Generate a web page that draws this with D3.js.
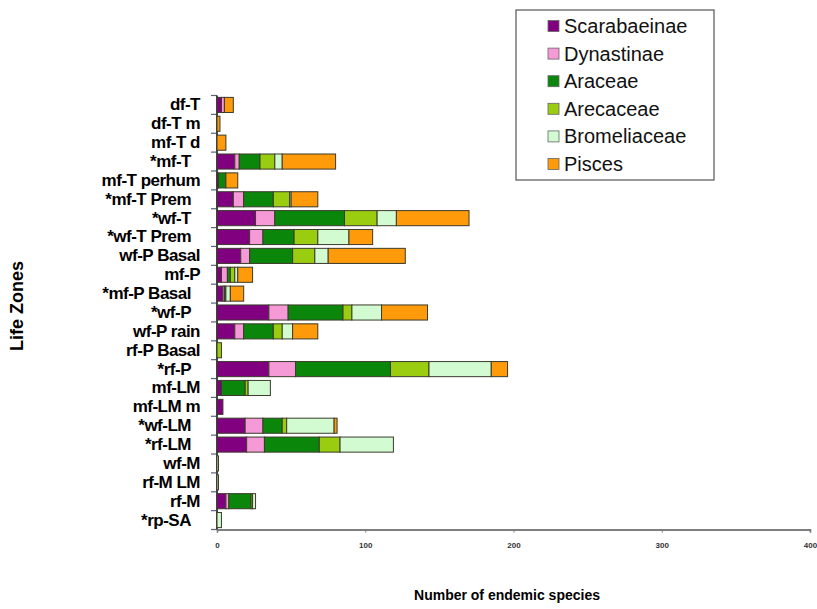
<!DOCTYPE html>
<html>
<head>
<meta charset="utf-8">
<script src="https://cdn.jsdelivr.net/npm/d3@7"></script>
<style>
  body { margin: 0; background: #fff; }
  svg { font-family: "Liberation Sans", Arial, sans-serif; }
</style>
</head>
<body>
<svg width="817" height="609"></svg>
<script>
const zones = ['df-T', 'df-T m', 'mf-T d', '*mf-T', 'mf-T perhum', '*mf-T Prem', '*wf-T',
  '*wf-T Prem', 'wf-P Basal', 'mf-P', '*mf-P Basal', '*wf-P', 'wf-P rain', 'rf-P Basal',
  '*rf-P', 'mf-LM', 'mf-LM m', '*wf-LM', '*rf-LM', 'wf-M', 'rf-M LM', 'rf-M', '*rp-SA'];

const series = ['Scarabaeinae', 'Dynastinae', 'Araceae', 'Arecaceae', 'Bromeliaceae', 'Pisces'];

const scarabaeinae = [3, 0, 0, 12, 1, 11, 26, 22, 16, 3, 4, 35, 12, 0, 35, 3, 4, 19, 20, 0, 0, 6, 0];
const dynastinae   = [2, 0, 0, 3, 0, 7, 13, 9, 6, 4, 1, 13, 6, 0, 18, 0, 0, 12, 12, 0, 0, 2, 0];
const araceae      = [0, 0, 0, 14, 5, 20, 47, 21, 29, 2, 1, 37, 20, 0, 64, 16, 0, 13, 37, 0, 0, 15, 0];
const arecaceae    = [0, 0, 0, 10, 0, 11, 22, 16, 15, 3, 0, 6, 6, 3, 26, 2, 0, 3, 14, 0, 0, 1, 0];
const bromeliaceae = [0, 0, 0, 5, 0, 1, 13, 21, 9, 2, 3, 20, 7, 0, 42, 15, 0, 32, 36, 1, 1, 2, 3];
const pisces       = [6, 2, 6, 36, 8, 18, 49, 16, 52, 10, 9, 31, 17, 0, 11, 0, 0, 2, 0, 0, 0, 0, 0];

const xTicks = [0, 100, 200, 300, 400];

const colors = ['#800080', '#f59ad6', '#0a870a', '#9acc10', '#d2fbd2', '#ff9a0a'];

const values = [scarabaeinae, dynastinae, araceae, arecaceae, bromeliaceae, pisces];
const rows = zones.map((zone, i) => {
  const r = {zone};
  series.forEach((s, k) => { r[s] = values[k][i]; });
  return r;
});

const svg = d3.select('svg');

const x = d3.scaleLinear().domain([0, 400]).range([217, 810]);
const y = d3.scaleBand()
  .domain(zones)
  .range([95.5, 529.5])
  .paddingInner(0.2)
  .paddingOuter(0.1);

// y axis: labels
const yAxis = svg.append('g')
  .attr('transform', 'translate(217,0)')
  .call(d3.axisLeft(y).tickSize(0).tickPadding(17));
yAxis.select('.domain').remove();
yAxis.selectAll('text')
  .attr('dx', d => d.startsWith('*') ? -9 : 0)
  .style('font-size', '17px')
  .style('font-weight', 'bold')
  .style('letter-spacing', '-0.5px')
  .attr('fill', '#000');

// band boundary ticks
const bounds = zones.map(z => y(z) - y.step() * y.paddingInner() / 2);
bounds.push(y.range()[1]);
svg.append('g').selectAll('line')
  .data(bounds)
  .join('line')
  .attr('x1', 211).attr('x2', 217)
  .attr('y1', d => d).attr('y2', d => d)
  .attr('stroke', '#5a6478').attr('stroke-width', 1.2);

svg.append('line')
  .attr('x1', 217).attr('x2', 217)
  .attr('y1', y.range()[0]).attr('y2', y.range()[1])
  .attr('stroke', '#444').attr('stroke-width', 2);

// x axis
const xAxis = svg.append('g')
  .attr('transform', `translate(0,${y.range()[1]})`)
  .call(d3.axisBottom(x).tickValues(xTicks).tickSize(3).tickPadding(10));
xAxis.select('.domain').attr('stroke', '#555').attr('stroke-width', 1.5);
xAxis.selectAll('line').attr('stroke', '#777');
xAxis.selectAll('text')
  .style('font-size', '8px')
  .style('font-weight', 'bold')
  .attr('fill', '#333');

// bars
const stacked = d3.stack().keys(series)(rows);
svg.append('g')
  .selectAll('g')
  .data(stacked)
  .join('g')
  .attr('fill', d => colors[d.index])
  .selectAll('rect')
  .data(d => d.filter(s => s[1] > s[0]))
  .join('rect')
  .attr('x', s => x(s[0]))
  .attr('width', s => x(s[1]) - x(s[0]))
  .attr('y', s => y(s.data.zone))
  .attr('height', y.bandwidth())
  .attr('stroke', '#3c3a2c')
  .attr('stroke-width', 1);

// axis titles
svg.append('text')
  .attr('x', 507).attr('y', 600)
  .attr('text-anchor', 'middle')
  .style('font-size', '14px')
  .style('font-weight', 'bold')
  .text('Number of endemic species');

svg.append('text')
  .attr('transform', 'translate(23,306) rotate(-90)')
  .attr('text-anchor', 'middle')
  .style('font-size', '18px')
  .style('font-weight', 'bold')
  .text('Life Zones');

// legend
const legend = svg.append('g');
legend.append('rect')
  .attr('x', 516).attr('y', 10)
  .attr('width', 198).attr('height', 170)
  .attr('fill', '#fff')
  .attr('stroke', '#555').attr('stroke-width', 1.2);

const item = legend.selectAll('g.item')
  .data(series)
  .join('g')
  .attr('class', 'item')
  .attr('transform', (d, i) => `translate(548,${26 + i * 27.6})`);
item.append('rect')
  .attr('x', 0).attr('y', -5.5)
  .attr('width', 11).attr('height', 11)
  .attr('fill', (d, i) => colors[i])
  .attr('stroke', '#666').attr('stroke-width', 0.8);
item.append('text')
  .attr('x', 16).attr('dy', '0.35em')
  .style('font-size', '20px')
  .attr('fill', '#111')
  .text(d => d);
</script>
</body>
</html>
